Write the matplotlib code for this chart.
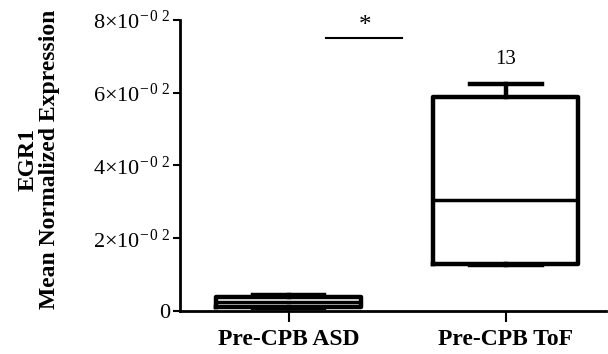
import numpy as np
import matplotlib.pyplot as plt

plt.rcParams['font.family'] = 'Liberation Serif'
plt.rcParams['mathtext.fontset'] = 'custom'
plt.rcParams['mathtext.rm'] = 'Liberation Serif'
plt.rcParams['mathtext.it'] = 'Liberation Serif'

groups = ['Pre-CPB ASD', 'Pre-CPB ToF']
q1 = [0.0012, 0.0128]
med = [0.0025, 0.0305]
q3 = [0.0038, 0.0588]
whislo = [0.0008, 0.0126]
whishi = [0.0043, 0.0624]
n_label = '13'
yticks = [0, 0.02, 0.04, 0.06, 0.08]
ytick_labels = ['0', r'$2{\times}10^{-\,0\,\,2}$', r'$4{\times}10^{-\,0\,\,2}$',
                r'$6{\times}10^{-\,0\,\,2}$', r'$8{\times}10^{-\,0\,\,2}$']

stats = []
for i, g in enumerate(groups):
    stats.append(dict(label=g, q1=q1[i], med=med[i], q3=q3[i],
                      whislo=whislo[i], whishi=whishi[i], fliers=[]))

fig = plt.figure(figsize=(6.08, 3.54), dpi=100)
ax = fig.add_axes([0.296, 0.1215, 0.70, 0.822])

ax.bxp(stats, positions=[0, 1], widths=0.67, capwidths=0.33, showfliers=False,
       boxprops=dict(color='black', linewidth=3.2),
       whiskerprops=dict(color='black', linewidth=3.2),
       capprops=dict(color='black', linewidth=3.2),
       medianprops=dict(color='black', linewidth=2.5))

ax.set_xlim(-0.5, 1.46)
ax.set_ylim(0, 0.08)
ax.set_yticks(yticks)
ax.set_yticklabels(ytick_labels, fontsize=16)
ax.set_xticks([0, 1])
ax.set_xticklabels(groups, fontsize=17, fontweight='bold')
ax.tick_params(axis='y', length=5, width=1.5, pad=2)
ax.tick_params(axis='x', length=8, width=1.5, pad=5)

ax.spines['top'].set_visible(False)
ax.spines['right'].set_visible(False)
ax.spines['left'].set_linewidth(2)
ax.spines['bottom'].set_linewidth(2)

ax.set_ylabel('EGR1\nMean Normalized Expression', fontsize=17, fontweight='bold',
              linespacing=1.05)
ax.yaxis.set_label_coords(-0.282, 0.52)

ax.text(1, 0.0665, n_label, ha='center', va='bottom', fontsize=15)
ax.plot([0.174, 0.523], [0.0751, 0.0751], color='black', lw=1.5, clip_on=False)
ax.text(0.35, 0.0752, '*', ha='center', va='bottom', fontsize=18)

fig.savefig('out.png', dpi=100)
